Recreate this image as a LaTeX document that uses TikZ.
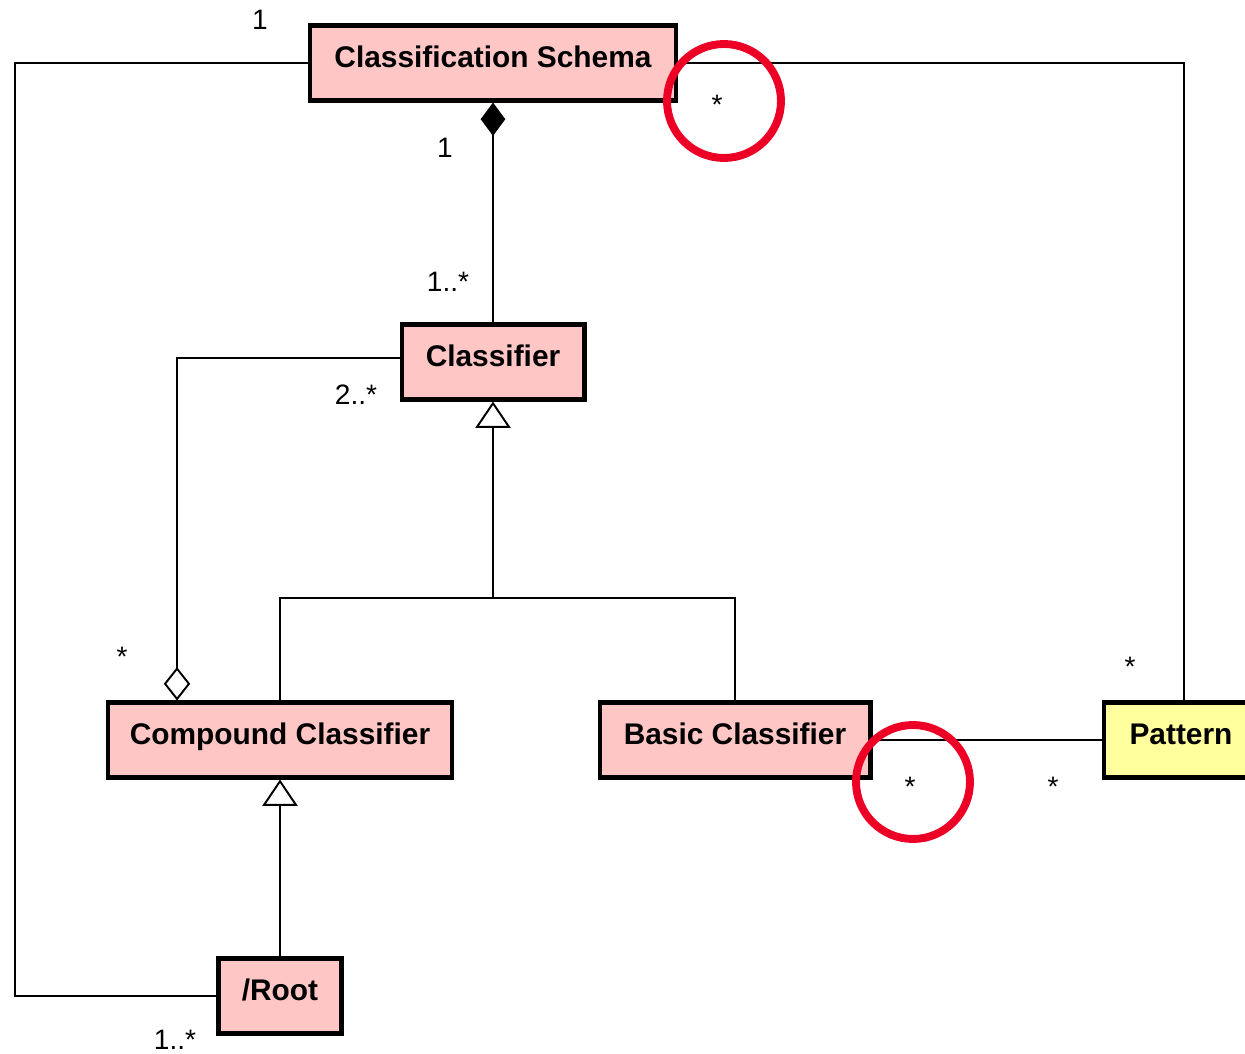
\documentclass[tikz,border=0pt]{standalone}
\usepackage{fontspec}
\setmainfont{Liberation Sans}
\usetikzlibrary{arrows.meta,calc}
\definecolor{clspink}{RGB}{255,198,198}
\definecolor{clsyellow}{RGB}{255,255,158}
\definecolor{markred}{RGB}{236,0,38}

\begin{document}
\begin{tikzpicture}[x=0.02cm,y=-0.02cm,line width=1.1pt,
        cls/.style={draw,line width=2.3pt,fill=clspink,minimum height=1.5cm,inner sep=0pt,
            text height=0.72em,text depth=0.25em,
            font=\fontsize{17}{20}\selectfont\bfseries},
        mult/.style={inner sep=0pt,font=\fontsize{16}{19}\selectfont},
        compose/.style={-{Diamond[length=19pt,width=14pt]}},
        aggregate/.style={-{Diamond[open,length=19pt,width=15pt]}},
        inherit/.style={-{Triangle[open,length=15pt,width=20pt]}},
        highlight/.style={draw=markred,line width=4.5pt}]
    \clip (0,0) rectangle (1245,1054);

    % classes
    \node[cls,minimum width=7.34cm] (schema) at (493,63) {Classification Schema};
    \node[cls,minimum width=3.66cm] (classifier) at (493,362) {Classifier};
    \node[cls,minimum width=6.88cm] (compound) at (280,740) {Compound Classifier};
    \node[cls,minimum width=5.42cm] (basic) at (735,740) {Basic Classifier};
    \node[cls,fill=clsyellow,minimum width=3.1cm] (pattern) at (1181,740) {Pattern};
    \node[cls,minimum width=2.46cm] (root) at (280,996) {/Root};

    \coordinate (ltop) at (15,63);
    \coordinate (split) at (493,598);

    % associations
    \draw (schema.west) -- (ltop) |- (root.west);
    \draw (schema.east) -| ([xshift=0.06cm]pattern.north);
    \draw (basic.east) -- (pattern.west);
    \draw[compose] (classifier.north) -- (schema.south);
    \draw[aggregate] ([yshift=0.08cm]classifier.west) -| ($(compound.north west)+(71,0)$);

    % generalisation
    \draw[inherit] (split) -- (classifier.south);
    \draw (compound.north) |- (split) -| (basic.north);
    \draw[inherit] (root.north) -- (compound.south);

    % multiplicities
    \node[mult] (m1) at (260,20) {1};
    \node[mult] (m2) at (717,105) {*};
    \node[mult] (m3) at (445,148) {1};
    \node[mult] (m4) at (448,282) {1..*};
    \node[mult] (m5) at (356,395) {2..*};
    \node[mult] (m6) at (122,657) {*};
    \node[mult] (m7) at (1130,667) {*};
    \node[mult] (m8) at (910,787) {*};
    \node[mult] (m9) at (1053,787) {*};
    \node[mult] (m10) at (175,1040) {1..*};

    % marks
    \draw[highlight] (m2) ++(7,-4) circle[radius=1.14cm];
    \draw[highlight] (m8) ++(3,-5) circle[radius=1.14cm];
\end{tikzpicture}
\end{document}
